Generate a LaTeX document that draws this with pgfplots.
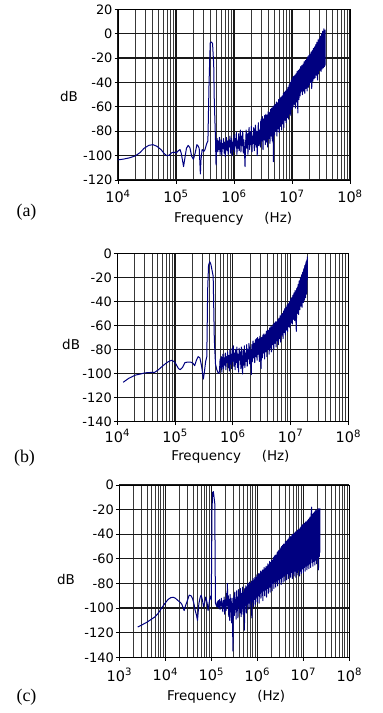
\documentclass[border=0pt]{standalone}
\usepackage{pgfplots}
\pgfplotsset{compat=1.18}
\usepackage{fontspec}
\setmainfont{DejaVu Sans}
\newfontfamily\seriffont{Liberation Serif}
\definecolor{navy}{RGB}{0,0,128}
\pgfplotsset{every axis/.append style={
    scale only axis, xmode=log, xmax=1e8,
    axis line style={black, line width=1bp},
    grid=both,
    major grid style={black!90, line width=1.2bp},
    minor grid style={black!78, line width=0.9bp},
    tick align=outside, tick pos=left,
    major tick length=3.5bp, minor tick length=0pt,
    tick style={black, line width=1bp},
    xticklabel style={font=\fontsize{14.5}{15}\selectfont},
    yticklabel style={font=\fontsize{13}{14}\selectfont, xshift=1.5bp},
    label style={font=\fontsize{13.5}{15}\selectfont},
    ylabel style={rotate=-90, anchor=center},
    xlabel style={anchor=center},
}}
\begin{document}
\begin{tikzpicture}
\useasboundingbox (0,0) rectangle (383bp,-713bp);
% ---------------- (a) ----------------
\begin{axis}[at={(118bp,-180bp)}, anchor=south west,
  width=232bp, height=170.7bp, xmin=1e4, ymin=-120, ymax=20,
  xtick={1e4,1e5,1e6,1e7,1e8},
  xticklabels={10\textsuperscript{4},10\textsuperscript{5},10\textsuperscript{6},10\textsuperscript{7},10\textsuperscript{8}},
  xticklabel style={yshift=-3bp},
  ytick={-120,-100,-80,-60,-40,-20,0,20},
  yticklabels={-120,-100,-80,-60,-40,-20,0,20},
  xlabel={Frequency\hspace{1.55em}(Hz)}, ylabel={dB},
  xlabel style={at={(axis description cs:0.496,-0.23)}},
  ylabel style={at={(axis description cs:-0.211,0.49)}}]
\addplot[navy, line width=1bp, line join=round] table[row sep=\\, x expr=10^\thisrowno{0}, y index=1] {
4.00 -103.5\\ 4.10 -102.8\\ 4.20 -101.8\\ 4.30 -100.2\\ 4.38 -97.5\\ 4.45 -94\\ 4.53 -91.6\\ 4.60 -91\\
4.67 -92.3\\ 4.74 -95\\ 4.80 -98.5\\ 4.84 -100\\ 4.88 -99.8\\ 4.93 -97.5\\ 4.97 -97.2\\ 5.00 -98\\
5.04 -96\\ 5.07 -95\\ 5.09 -98\\ 5.12 -106\\ 5.13 -109\\ 5.15 -103\\ 5.18 -94\\ 5.21 -91.6\\
5.24 -93.5\\ 5.27 -100.5\\ 5.30 -103\\ 5.33 -98\\ 5.36 -91\\ 5.38 -92\\ 5.40 -94\\ 5.41 -104\\
5.42 -115\\ 5.43 -104\\ 5.45 -95\\ 5.48 -96.6\\ 5.50 -95\\ 5.53 -90\\ 5.55 -88\\ 5.57 -40\\
5.59 -7.5\\ 5.61 -6.8\\ 5.63 -8\\ 5.65 -25\\ 5.66 -55\\ 5.68 -85\\ 5.69 -107.6\\
5.70 -90\\ 5.71 -86\\ 5.72 -97\\ 5.73 -88\\ 5.74 -95\\ 5.75 -85\\ 5.76 -99\\ 5.77 -92\\
5.78 -87\\ 5.79 -100\\ 5.80 -90\\ 5.81 -94\\ 5.82 -86\\ 5.83 -98\\ 5.84 -89\\ 5.85 -101\\
5.86 -91\\ 5.87 -85\\ 5.88 -96\\ 5.89 -88\\ 5.90 -99\\ 5.91 -87\\ 5.92 -93\\ 5.93 -84\\
5.94 -98\\ 5.95 -90\\ 5.96 -86\\ 5.97 -100\\ 5.98 -89\\ 5.99 -95\\ 6.00 -83\\ 6.01 -97\\
6.02 -86\\ 6.03 -92\\ 6.04 -81\\ 6.05 -99\\ 6.06 -88\\ 6.07 -94\\ 6.08 -82\\ 6.09 -96\\
6.10 -87\\ 6.11 -79\\ 6.12 -97\\ 6.13 -84\\ 6.14 -92\\ 6.15 -80\\ 6.16 -98\\ 6.17 -87\\
6.18 -95\\ 6.19 -109\\ 6.20 -90\\ 6.21 -79\\ 6.22 -94\\ 6.23 -82\\ 6.24 -99\\ 6.25 -85\\
6.26 -77\\ 6.27 -95\\ 6.28 -81\\ 6.29 -91\\ 6.30 -76\\ 6.31 -97\\ 6.32 -84\\ 6.33 -90\\
6.34 -77\\ 6.35 -96\\ 6.36 -82\\ 6.37 -75\\ 6.38 -93\\ 6.39 -80\\ 6.40 -100\\ 6.41 -84\\
6.42 -73\\ 6.43 -92\\ 6.44 -79\\ 6.45 -89\\
6.46 -93\\ 6.47 -70\\ 6.48 -88\\ 6.49 -68\\ 6.50 -95\\ 6.51 -71\\ 6.52 -87\\ 6.53 -67\\
6.54 -91\\ 6.55 -66\\ 6.56 -89\\ 6.57 -67\\ 6.58 -93\\ 6.59 -64\\ 6.60 -86\\ 6.61 -65\\
6.62 -90\\ 6.63 -62\\ 6.64 -84\\ 6.65 -61\\ 6.66 -88\\ 6.67 -60\\ 6.68 -105\\ 6.69 -59\\
6.70 -83\\ 6.71 -58\\ 6.72 -80\\ 6.73 -56\\ 6.74 -84\\ 6.75 -57\\ 6.76 -78\\ 6.77 -54\\
6.78 -81\\ 6.79 -53\\ 6.80 -76\\ 6.81 -52\\ 6.82 -79\\ 6.83 -51\\ 6.84 -74\\ 6.85 -49\\
6.86 -77\\ 6.87 -48\\ 6.88 -71\\ 6.89 -47\\ 6.90 -73\\ 6.91 -46\\ 6.92 -69\\ 6.93 -44\\
6.94 -70\\ 6.95 -42\\ 6.96 -66\\ 6.97 -40\\ 6.98 -67\\ 6.99 -38\\ 7.00 -62\\ 7.01 -36\\
7.02 -60\\ 7.03 -35\\ 7.04 -58\\ 7.05 -34\\ 7.06 -61\\ 7.07 -33\\ 7.08 -56\\ 7.09 -31\\
7.10 -65\\ 7.11 -30\\ 7.12 -54\\ 7.13 -29\\ 7.14 -51\\ 7.15 -27\\ 7.16 -46\\ 7.17 -26\\
7.18 -50\\ 7.19 -25\\ 7.20 -47\\ 7.21 -23\\ 7.22 -49\\ 7.23 -22\\ 7.24 -45\\ 7.25 -21\\
7.26 -47\\ 7.27 -19\\ 7.28 -44\\ 7.29 -18\\ 7.30 -42\\ 7.31 -17\\ 7.32 -40\\ 7.33 -15\\
7.34 -45\\ 7.35 -14\\ 7.36 -39\\ 7.37 -12\\ 7.38 -37\\ 7.39 -11\\ 7.40 -36\\ 7.41 -9\\
7.42 -34\\ 7.43 -7\\ 7.44 -38\\ 7.45 -5\\ 7.46 -33\\ 7.47 -4\\ 7.48 -30\\ 7.49 -2\\
7.50 -31\\ 7.51 0\\ 7.52 -29\\ 7.53 2\\ 7.54 -28\\ 7.55 4\\ 7.56 -27\\ 7.57 3\\ 7.57 -26\\
};
\addplot[fill=navy, draw=none] table[row sep=\\, x expr=10^\thisrowno{0}, y index=1] {
6.45 -72\\ 6.55 -68\\ 6.62 -64\\ 6.70 -59\\ 6.78 -55\\ 6.85 -51\\ 6.92 -46\\ 7.00 -38\\
7.10 -31\\ 7.20 -25\\ 7.30 -18\\ 7.40 -10\\ 7.50 -3\\ 7.57 2\\
7.57 -25\\ 7.50 -29\\ 7.40 -34\\ 7.30 -40\\ 7.20 -45\\ 7.10 -52\\ 7.00 -58\\ 6.92 -65\\
6.85 -71\\ 6.78 -75\\ 6.70 -79\\ 6.62 -83\\ 6.55 -86\\ 6.45 -88\\
} -- cycle;
\end{axis}
% ---------------- (b) ----------------
\begin{axis}[at={(117.3bp,-421.5bp)}, anchor=south west,
  width=231bp, height=168.2bp, xmin=1e4, ymin=-140, ymax=0,
  xtick={1e4,1e5,1e6,1e7,1e8},
  xticklabels={10\textsuperscript{4},10\textsuperscript{5},10\textsuperscript{6},10\textsuperscript{7},10\textsuperscript{8}},
  xticklabel style={yshift=-1bp},
  ytick={-140,-120,-100,-80,-60,-40,-20,0},
  yticklabels={-140,-120,-100,-80,-60,-40,-20,0},
  xlabel={Frequency\hspace{1.55em}(Hz)}, ylabel={dB},
  xlabel style={at={(axis description cs:0.49,-0.21)}},
  ylabel style={at={(axis description cs:-0.2,0.455)}}]
\addplot[navy, line width=1bp, line join=round] table[row sep=\\, x expr=10^\thisrowno{0}, y index=1] {
4.10 -107.4\\ 4.20 -104\\ 4.31 -101.4\\ 4.40 -100.5\\ 4.48 -99.5\\ 4.57 -99.2\\ 4.65 -99\\ 4.71 -97\\
4.77 -94.4\\ 4.83 -92\\ 4.88 -90.3\\ 4.94 -89\\ 4.98 -90\\ 5.02 -92.5\\ 5.06 -96\\ 5.09 -96.8\\
5.13 -95\\ 5.17 -91\\ 5.22 -90.5\\ 5.27 -90.5\\ 5.31 -91.5\\ 5.34 -93.5\\ 5.37 -89\\ 5.40 -86\\
5.43 -87\\ 5.46 -94\\ 5.49 -104.7\\ 5.51 -98\\ 5.53 -90\\ 5.55 -86\\ 5.565 -30\\ 5.58 -10\\
5.60 -7\\ 5.62 -9\\ 5.64 -14\\ 5.66 -19\\ 5.67 -45\\ 5.68 -71.6\\ 5.70 -92\\ 5.72 -96.4\\
5.74 -99\\ 5.76 -100\\ 5.77 -97.8\\
5.78 -88\\ 5.79 -95\\ 5.80 -86\\ 5.81 -99\\ 5.82 -90\\ 5.83 -84\\ 5.84 -96\\ 5.85 -87\\
5.86 -93\\ 5.87 -83\\ 5.88 -97\\ 5.89 -86\\ 5.90 -91\\ 5.91 -82\\ 5.92 -95\\ 5.93 -85\\
5.94 -98\\ 5.95 -80\\ 5.96 -92\\ 5.97 -84\\ 5.98 -96\\ 5.99 -79\\ 6.00 -90\\ 6.01 -77\\
6.02 -94\\ 6.03 -83\\ 6.04 -97\\ 6.05 -80\\ 6.06 -91\\ 6.07 -78\\ 6.08 -95\\ 6.09 -84\\
6.10 -99\\ 6.11 -79\\ 6.12 -89\\ 6.13 -82\\ 6.14 -96\\ 6.15 -78\\ 6.16 -92\\ 6.17 -100.5\\
6.18 -81\\ 6.19 -93\\ 6.20 -77\\ 6.21 -95\\ 6.22 -83\\ 6.23 -90\\ 6.24 -76\\ 6.25 -94\\
6.26 -80\\ 6.27 -88\\ 6.28 -75\\ 6.29 -92\\ 6.30 -78\\ 6.31 -89\\ 6.32 -101\\ 6.33 -76\\
6.34 -90\\ 6.35 -73\\ 6.36 -87\\ 6.37 -75\\ 6.38 -91\\ 6.39 -72\\
6.40 -86\\ 6.41 -71\\ 6.42 -89\\ 6.43 -70\\ 6.44 -84\\ 6.45 -72\\ 6.46 -90\\ 6.47 -69\\
6.48 -85\\ 6.49 -96\\ 6.50 -70\\ 6.51 -87\\ 6.52 -68\\ 6.53 -83\\ 6.54 -67\\ 6.55 -88\\
6.56 -68\\ 6.57 -82\\ 6.58 -65\\ 6.59 -86\\ 6.60 -64\\ 6.61 -80\\ 6.62 -64\\ 6.63 -84\\
6.64 -62\\ 6.65 -79\\ 6.66 -61\\ 6.67 -82\\ 6.68 -61\\ 6.69 -76\\ 6.70 -59\\ 6.71 -80\\
6.72 -58\\ 6.73 -75\\ 6.74 -57\\ 6.75 -78\\ 6.76 -57\\ 6.77 -73\\ 6.78 -55\\ 6.79 -76\\
6.80 -54\\ 6.81 -71\\ 6.82 -52\\ 6.83 -74\\ 6.84 -51\\ 6.85 -68\\ 6.86 -50\\ 6.87 -71\\
6.88 -48\\ 6.89 -66\\ 6.90 -46\\ 6.91 -68\\ 6.92 -45\\ 6.93 -64\\ 6.94 -43\\ 6.95 -65\\
6.96 -42\\ 6.97 -61\\ 6.98 -40\\ 6.99 -62\\ 7.00 -38\\ 7.01 -58\\ 7.02 -37\\ 7.03 -59\\
7.04 -35\\ 7.05 -55\\ 7.06 -33\\ 7.07 -56\\ 7.08 -31\\ 7.09 -52\\ 7.10 -65\\ 7.11 -29\\
7.12 -50\\ 7.13 -26\\ 7.14 -51\\ 7.15 -23\\ 7.16 -47\\ 7.17 -21\\ 7.18 -44\\ 7.19 -18\\
7.20 -45\\ 7.21 -16\\ 7.22 -41\\ 7.23 -13\\ 7.24 -39\\ 7.25 -10\\ 7.26 -37\\ 7.27 -7\\
7.28 -34\\ 7.29 -3\\ 7.29 -22\\
};
\addplot[fill=navy, draw=none] table[row sep=\\, x expr=10^\thisrowno{0}, y index=1] {
6.40 -72\\ 6.50 -70\\ 6.58 -67\\ 6.70 -61\\ 6.82 -54\\ 6.90 -47\\ 6.99 -40\\ 7.06 -34\\
7.13 -27\\ 7.20 -17\\ 7.29 -4\\
7.29 -22\\ 7.20 -38\\ 7.13 -46\\ 7.06 -52\\ 6.99 -57\\ 6.90 -63\\ 6.82 -69\\ 6.70 -75\\
6.58 -80\\ 6.50 -83\\ 6.40 -85\\
} -- cycle;
\end{axis}
% ---------------- (c) ----------------
\begin{axis}[at={(119.3bp,-657.3bp)}, anchor=south west,
  width=230bp, height=172.3bp, xmin=1e3, ymin=-140, ymax=0,
  xtick={1e3,1e4,1e5,1e6,1e7,1e8},
  xticklabels={10\textsuperscript{3},10\textsuperscript{4},10\textsuperscript{5},10\textsuperscript{6},10\textsuperscript{7},10\textsuperscript{8}},
  xticklabel style={yshift=-4bp},
  ytick={-140,-120,-100,-80,-60,-40,-20,0},
  yticklabels={-140,-120,-100,-80,-60,-40,-20,0},
  xlabel={Frequency\hspace{1.55em}(Hz)}, ylabel={dB},
  xlabel style={at={(axis description cs:0.464,-0.229)}},
  ylabel style={at={(axis description cs:-0.232,0.449)}}]
\addplot[navy, line width=1bp, line join=round] table[row sep=\\, x expr=10^\thisrowno{0}, y index=1] {
3.40 -115.4\\ 3.50 -113.5\\ 3.60 -111.5\\ 3.70 -109\\ 3.78 -107\\ 3.85 -104\\ 3.92 -100\\ 3.99 -96.3\\
4.06 -93\\ 4.12 -91.5\\ 4.17 -91.2\\ 4.22 -92\\ 4.28 -94\\ 4.33 -95.5\\ 4.36 -97\\ 4.41 -102\\
4.44 -98\\ 4.47 -95\\ 4.52 -89.5\\ 4.56 -90\\ 4.59 -92\\ 4.62 -96\\ 4.65 -102\\ 4.68 -106\\
4.70 -110\\ 4.73 -96.3\\ 4.76 -91\\ 4.78 -89.5\\ 4.81 -94\\ 4.83 -99\\ 4.86 -95\\ 4.88 -91\\
4.91 -96\\ 4.93 -102\\ 4.96 -94\\ 4.99 -90\\ 5.00 -93\\ 5.015 -20\\ 5.03 -6\\ 5.045 -5.4\\
5.06 -10\\ 5.075 -15\\ 5.085 -70\\ 5.09 -96\\ 5.12 -98.8\\
5.13 -95\\ 5.14 -99\\ 5.15 -94\\ 5.16 -100\\ 5.17 -96\\ 5.18 -93\\ 5.19 -101\\ 5.20 -95\\
5.21 -98\\ 5.22 -92\\ 5.23 -100\\ 5.24 -96\\ 5.25 -103\\ 5.26 -94\\ 5.27 -99\\ 5.28 -91\\
5.29 -105\\ 5.30 -97\\ 5.31 -93\\ 5.32 -102\\ 5.33 -88\\ 5.34 -98\\ 5.35 -80\\ 5.36 -100\\
5.37 -90\\ 5.38 -107\\ 5.39 -93\\ 5.40 -110\\ 5.41 -89\\ 5.42 -103\\ 5.43 -95\\ 5.44 -112\\
5.45 -92\\ 5.46 -104\\ 5.47 -135\\ 5.48 -98\\ 5.49 -90\\ 5.50 -106\\ 5.51 -87\\ 5.52 -101\\
5.53 -93\\ 5.54 -109\\ 5.55 -86\\ 5.56 -102\\ 5.57 -91\\ 5.58 -108\\ 5.59 -85\\ 5.60 -99\\
5.61 -89\\ 5.62 -104\\ 5.63 -84\\ 5.64 -97\\ 5.65 -107\\ 5.66 -88\\ 5.67 -100\\ 5.68 -83\\
5.69 -105\\ 5.70 -87\\
5.71 -100\\ 5.72 -118\\ 5.73 -84\\ 5.74 -98\\ 5.75 -82\\ 5.76 -104\\ 5.77 -85\\ 5.78 -97\\
5.79 -80\\ 5.80 -101\\ 5.81 -83\\ 5.82 -96\\ 5.83 -79\\ 5.84 -100\\ 5.85 -82\\ 5.86 -94\\
5.87 -78\\ 5.88 -108\\ 5.89 -81\\ 5.90 -95\\ 5.91 -76\\ 5.92 -99\\ 5.93 -79\\ 5.94 -93\\
5.95 -75\\ 5.96 -97\\ 5.97 -77\\ 5.98 -91\\ 5.99 -73\\ 6.00 -95\\ 6.01 -75\\ 6.02 -90\\
6.03 -72\\ 6.04 -96\\ 6.05 -74\\ 6.06 -88\\ 6.07 -70\\ 6.08 -92\\ 6.09 -72\\ 6.10 -87\\
6.11 -69\\ 6.12 -94\\ 6.13 -70\\ 6.14 -86\\ 6.15 -67\\ 6.16 -90\\ 6.17 -69\\ 6.18 -85\\
6.19 -66\\ 6.20 -91\\ 6.21 -67\\ 6.22 -84\\ 6.23 -64\\ 6.24 -88\\ 6.25 -65\\ 6.26 -83\\
6.27 -62\\ 6.28 -87\\ 6.29 -63\\ 6.30 -82\\ 6.31 -61\\ 6.32 -86\\ 6.33 -61\\ 6.34 -80\\
6.35 -59\\ 6.36 -84\\ 6.37 -58\\ 6.38 -79\\ 6.39 -57\\ 6.40 -83\\ 6.41 -57\\ 6.42 -78\\
6.43 -55\\ 6.44 -82\\ 6.45 -54\\ 6.46 -77\\ 6.47 -53\\ 6.48 -80\\ 6.49 -53\\ 6.50 -76\\
6.51 -51\\ 6.52 -81\\ 6.53 -50\\ 6.54 -75\\ 6.55 -49\\ 6.56 -79\\ 6.57 -48\\ 6.58 -74\\
6.59 -48\\ 6.60 -78\\ 6.61 -46\\ 6.62 -73\\ 6.63 -46\\ 6.64 -77\\ 6.65 -45\\ 6.66 -72\\
6.67 -44\\ 6.68 -76\\ 6.69 -43\\ 6.70 -73\\ 6.71 -42\\ 6.72 -75\\ 6.73 -42\\ 6.74 -71\\
6.75 -41\\ 6.76 -76\\ 6.77 -40\\ 6.78 -72\\ 6.79 -40\\ 6.80 -74\\ 6.81 -39\\ 6.82 -70\\
6.83 -38\\ 6.84 -75\\ 6.85 -38\\ 6.86 -71\\ 6.87 -37\\ 6.88 -73\\ 6.89 -36\\ 6.90 -69\\
6.91 -36\\ 6.92 -74\\ 6.93 -35\\ 6.94 -70\\ 6.95 -34\\ 6.96 -72\\ 6.97 -33\\ 6.98 -68\\
6.99 -32\\ 7.00 -71\\ 7.01 -32\\ 7.02 -67\\ 7.03 -31\\ 7.04 -70\\ 7.05 -30\\ 7.06 -66\\
7.07 -30\\ 7.08 -69\\ 7.09 -29\\ 7.10 -65\\ 7.11 -28\\ 7.12 -68\\ 7.13 -27\\ 7.14 -64\\
7.15 -26\\ 7.16 -67\\ 7.17 -25\\ 7.18 -18\\ 7.19 -63\\ 7.20 -24\\ 7.21 -66\\ 7.22 -23\\
7.23 -62\\ 7.24 -22\\ 7.25 -65\\ 7.26 -21\\ 7.27 -61\\ 7.28 -20\\ 7.29 -64\\ 7.30 -21\\
7.31 -60\\ 7.32 -19\\ 7.33 -69\\ 7.34 -20\\ 7.35 -58\\ 7.36 -19\\ 7.36 -55\\
};
\addplot[fill=navy, draw=none] table[row sep=\\, x expr=10^\thisrowno{0}, y index=1] {
5.71 -85\\ 5.80 -81\\ 5.90 -78\\ 6.00 -74\\ 6.10 -70\\ 6.20 -66.5\\ 6.34 -61\\ 6.45 -56\\
6.60 -49\\ 6.71 -44\\ 6.85 -39\\ 7.00 -33\\ 7.10 -29\\ 7.20 -25\\ 7.36 -20\\
7.36 -55\\ 7.20 -60\\ 7.10 -62\\ 7.00 -64\\ 6.85 -66\\ 6.71 -68\\ 6.60 -70\\ 6.45 -73\\
6.34 -76\\ 6.20 -80\\ 6.10 -84\\ 6.00 -87\\ 5.90 -90\\ 5.80 -93\\ 5.71 -95\\
} -- cycle;
\end{axis}
\node[font=\seriffont\fontsize{18}{20}\selectfont] at (26.5bp,-212bp) {(a)};
\node[font=\seriffont\fontsize{18}{20}\selectfont] at (24.5bp,-458bp) {(b)};
\node[font=\seriffont\fontsize{18}{20}\selectfont] at (26.5bp,-697bp) {(c)};
\end{tikzpicture}
\end{document}
